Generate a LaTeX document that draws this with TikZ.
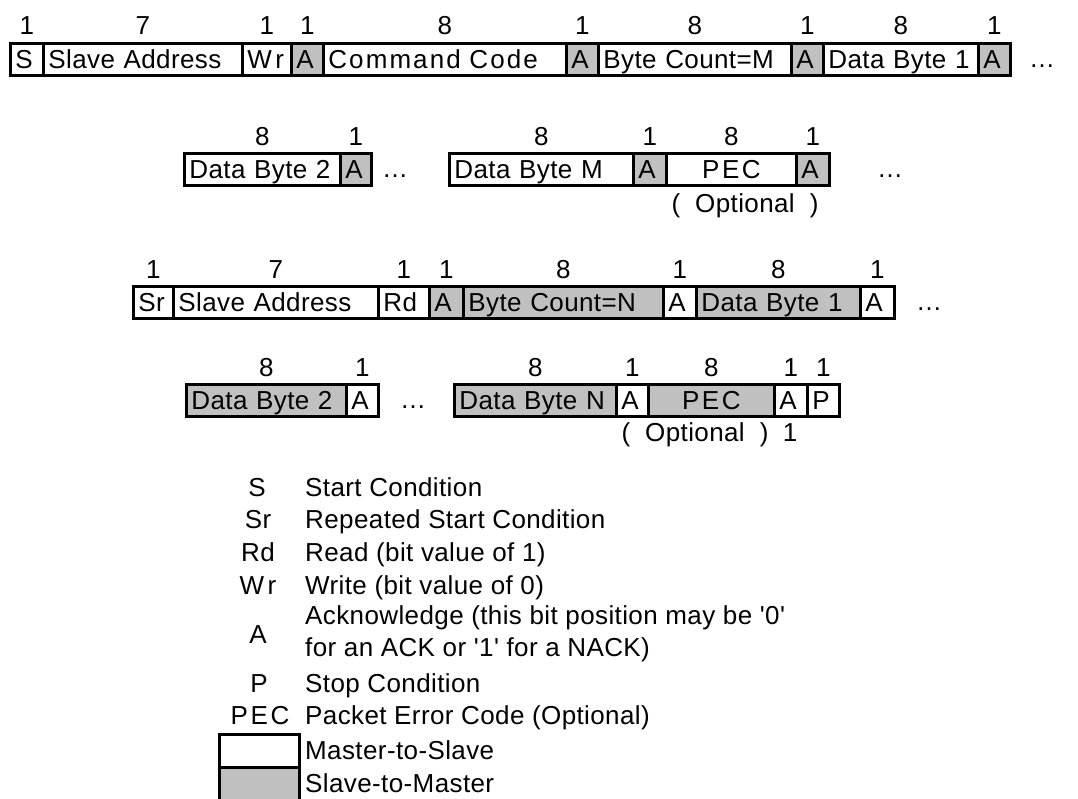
\documentclass[tikz,border=0pt]{standalone}
\usepackage{fontspec}
\setmainfont[Ligatures=TeXOff, LetterSpace=1.5]{Liberation Sans}
\definecolor{slavegray}{HTML}{C0C0C0}
\newcommand{\cellbox}[7]{%
  \pgfmathsetmacro\cw{#3-#2}%
  \pgfmathsetmacro\tw{#3-#2-10}%
  \node[#5, minimum width=\cw pt, text width=\tw pt, align=#6] (#1) at (#2,#4) {#7};%
}
\newcommand{\wide}[2]{{\addfontfeature{LetterSpace=#1}#2}}
\begin{document}
\begin{tikzpicture}[x=1pt,y=-1pt,
  every node/.style={font=\fontsize{26}{32}\selectfont},
  cellw/.style={draw, line width=2.8pt, fill=white, inner sep=0pt, minimum height=32pt,
    anchor=north west, text height=19pt, text depth=0pt},
  cellg/.style={cellw, fill=slavegray},
  lbl/.style={inner sep=0pt, text height=19pt, text depth=0pt},
  sym/.style={inner sep=0pt, anchor=center, text height=19pt, text depth=0pt},
  desc/.style={inner sep=0pt, anchor=west, text height=19pt, text depth=0pt},
  desc2/.style={inner sep=0pt, anchor=west, align=left}]
\useasboundingbox (0,0) rectangle (1078,798);
% ---------- Row 1 ----------
\cellbox{r1s}{9}{42}{42}{cellw}{left}{S}
\cellbox{r1sa}{42}{241}{42}{cellw}{left}{Slave Address}
\cellbox{r1wr}{241}{290}{42}{cellw}{left}{\wide{15}{Wr}}
\cellbox{r1a1}{290}{322}{42}{cellg}{left}{A}
\cellbox{r1cc}{322}{565}{42}{cellw}{left}{\wide{8}{Command Code}}
\cellbox{r1a2}{565}{597}{42}{cellg}{left}{A}
\cellbox{r1bc}{597}{790}{42}{cellw}{left}{Byte Count=M}
\cellbox{r1a3}{790}{822}{42}{cellg}{left}{A}
\cellbox{r1d1}{822}{977}{42}{cellw}{left}{Data Byte 1}
\cellbox{r1a4}{977}{1009}{42}{cellg}{left}{A}
\node[lbl] (r1dots) at (1042,58) {…};
\foreach \c/\t in {r1s/1,r1sa/7,r1wr/1,r1a1/1,r1cc/8,r1a2/1,r1bc/8,r1a3/1,r1d1/8,r1a4/1}
  \node[lbl] (n\c) at ([yshift=17pt]\c.north) {\t};
% ---------- Row 2 ----------
\cellbox{r2d2}{183}{339}{152}{cellw}{left}{Data Byte 2}
\cellbox{r2a1}{339}{370}{152}{cellg}{left}{A}
\node[lbl] (r2dots1) at (395,168) {…};
\cellbox{r2dm}{448}{632}{152}{cellw}{left}{Data Byte M}
\cellbox{r2a2}{632}{665}{152}{cellg}{left}{A}
\cellbox{r2pec}{665}{795}{152}{cellw}{center}{\wide{10}{PEC}}
\cellbox{r2a3}{795}{828}{152}{cellg}{left}{A}
\node[lbl] (r2dots2) at (890,168) {…};
\foreach \c/\t in {r2d2/8,r2a1/1,r2dm/8,r2a2/1,r2pec/8,r2a3/1}
  \node[lbl] (n\c) at ([yshift=16pt]\c.north) {\t};
\node[lbl] (r2opt) at (745,203) {(\hspace{15pt}Optional\hspace{15pt})};
% ---------- Row 3 ----------
\cellbox{r3sr}{132}{172}{285}{cellw}{left}{Sr}
\cellbox{r3sa}{172}{377}{285}{cellw}{left}{Slave Address}
\cellbox{r3rd}{377}{428}{285}{cellw}{left}{Rd}
\cellbox{r3a1}{428}{462}{285}{cellg}{left}{A}
\cellbox{r3bc}{462}{662}{285}{cellg}{left}{Byte Count=N}
\cellbox{r3a2}{662}{695}{285}{cellw}{left}{A}
\cellbox{r3d1}{695}{859}{285}{cellg}{left}{Data Byte 1}
\cellbox{r3a3}{859}{893}{285}{cellw}{left}{A}
\node[lbl] (r3dots) at (929,301) {…};
\foreach \c/\t in {r3sr/1,r3sa/7,r3rd/1,r3a1/1,r3bc/8,r3a2/1,r3d1/8,r3a3/1}
  \node[lbl] (n\c) at ([yshift=16pt]\c.north) {\t};
% ---------- Row 4 ----------
\cellbox{r4d2}{185}{345}{383}{cellg}{left}{Data Byte 2}
\cellbox{r4a1}{345}{377}{383}{cellw}{left}{A}
\node[lbl] (r4dots) at (413,399) {…};
\cellbox{r4dn}{453}{615}{383}{cellg}{left}{Data Byte N}
\cellbox{r4a2}{615}{647}{383}{cellw}{left}{A}
\cellbox{r4pec}{647}{773}{383}{cellg}{center}{\wide{10}{PEC}}
\cellbox{r4a3}{773}{806}{383}{cellw}{left}{A}
\cellbox{r4p}{806}{838}{383}{cellw}{left}{P}
\foreach \c/\t in {r4d2/8,r4a1/1,r4dn/8,r4a2/1,r4pec/8,r4a3/1,r4p/1}
  \node[lbl] (n\c) at ([yshift=16pt]\c.north) {\t};
\node[lbl] (r4opt) at (695,432) {(\hspace{15pt}Optional\hspace{15pt})};
\node[lbl] (r4one) at (790,432) {1};
% ---------- Legend ----------
\node[sym] (ks) at (257,487) {S};
\node[desc] (ds) at (305,487) {Start Condition};
\node[sym] (ksr) at (258,519) {Sr};
\node[desc] (dsr) at (305,519) {Repeated Start Condition};
\node[sym] (krd) at (258,552) {Rd};
\node[desc] (drd) at (305,552) {Read (bit value of 1)};
\node[sym] (kwr) at (258,585) {\wide{15}{Wr}};
\node[desc] (dwr) at (305,585) {Write (bit value of 0)};
\node[sym] (ka) at (258,634) {A};
\node[desc2] (da) at (305,634) {Acknowledge (this bit position may be '0'\\for an ACK or '1' for a NACK)};
\node[sym] (kp) at (259,683) {P};
\node[desc] (dp) at (305,683) {Stop Condition};
\node[sym] (kpec) at (260,715) {\wide{10}{PEC}};
\node[desc] (dpec) at (305,715) {Packet Error Code (Optional)};
\begin{scope}
\clip (0,0) rectangle (1078,798);
\node[draw, line width=2.8pt, fill=white, minimum width=80pt, minimum height=33pt,
  inner sep=0pt, anchor=north west] (lw) at (218,733) {};
\node[draw, line width=2.8pt, fill=slavegray, minimum width=80pt, minimum height=60pt,
  inner sep=0pt, anchor=north west] (lg) at (218,766) {};
\end{scope}
\node[desc] (dms) at (305,750) {Master-to-Slave};
\node[desc] (dsm) at (305,783) {Slave-to-Master};
\end{tikzpicture}
\end{document}
